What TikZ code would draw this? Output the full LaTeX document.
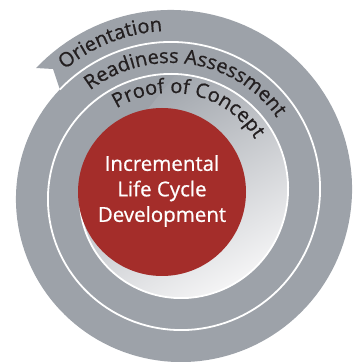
\documentclass[tikz,border=0pt]{standalone}
\usepackage{fontspec}
\setmainfont{Open Sans}[FakeBold=0.7]
\usetikzlibrary{decorations.text}
\definecolor{ringgray}{HTML}{9DA2A9}
\definecolor{corered}{HTML}{A42D2A}
\definecolor{labelink}{HTML}{231F20}
\definecolor{glow}{HTML}{F4F4F5}
\newcommand{\ringfont}{\fontsize{20}{24}\selectfont}

\begin{document}
\begin{tikzpicture}[x=1pt, y=1pt,
  declare function={sprad(\t)=184-\t/11.25;},
  seam/.style={draw=white, line width=1.8pt},
  ringlabel/.style={decorate, decoration={text along path, text align=center,
    text color=labelink, text={|\ringfont|#1}}}]
  \useasboundingbox (0,0) rectangle (356,362);
  % strip of the spiral, ending in a barb
  \coordinate (tip) at ({176+sprad(-48)*sin(-48)},{168+sprad(-48)*cos(-48)});
  \coordinate (barb) at (53,293);
  \fill[ringgray] plot[domain=-48:312, samples=150]
    ({176+sprad(\x)*sin(\x)},{168+sprad(\x)*cos(\x)}) -- (barb) -- (tip) -- cycle;
  \shade[top color=ringgray, bottom color=glow, shading angle=30]
    plot[domain=720:990, samples=100]
    ({176+sprad(\x)*sin(\x)},{168+sprad(\x)*cos(\x)}) -- cycle;
  \draw[seam] plot[domain=312:990, samples=260]
    ({176+sprad(\x)*sin(\x)},{168+sprad(\x)*cos(\x)});
  \node[circle, fill=corered, minimum size=168pt, inner sep=0pt] (disc) at (162,170) {};
  \node[text=white, align=center, inner sep=0pt,
    font=\fontsize{20.5}{25.5}\selectfont] (core) at (162,171)
    {Incremental\\Life Cycle\\Development};
  % labels along the turns
  \path[ringlabel=Orientation] plot[domain=-60:14, samples=80]
    ({176+(sprad(\x)-21)*sin(\x)},{168+(sprad(\x)-21)*cos(\x)});
  \path[ringlabel=Readiness Assessment] plot[domain=-50:64, samples=100]
    ({176+(sprad(\x+360)-21)*sin(\x)},{168+(sprad(\x+360)-21)*cos(\x)});
  \path[ringlabel=Proof of Concept] plot[domain=-50:72, samples=100]
    ({176+(sprad(\x+720)-19)*sin(\x)},{168+(sprad(\x+720)-19)*cos(\x)});
\end{tikzpicture}
\end{document}
